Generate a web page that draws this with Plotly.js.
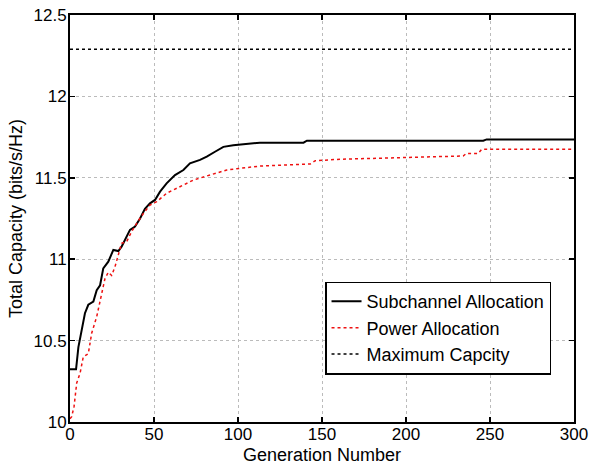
<!DOCTYPE html>
<html>
<head>
<meta charset="utf-8">
<script src="https://cdn.plot.ly/plotly-3.0.1.min.js"></script>
<style>html,body{margin:0;padding:0;background:#fff;}#chart{width:591px;height:469px;}</style>
</head>
<body>
<div id="chart"></div>
<script>
// Subchannel Allocation (black solid)
const subGen = [0, 1, 3.6, 5, 7, 8.9, 10.9, 13.9, 15.9, 17.9, 19.8, 22.8, 25.8, 28.8, 30.7, 33.7, 35.7, 38.7, 41.7, 44.6, 47.6, 50.6, 53.6, 57.5, 62.5, 67.5, 71.4, 77.4, 81.4, 86.3, 91.3, 97.2, 105, 113, 139, 141, 246, 248, 300];
const subVal = [10.324, 10.324, 10.324, 10.46, 10.565, 10.668, 10.72, 10.74, 10.81, 10.84, 10.944, 10.985, 11.057, 11.05, 11.077, 11.138, 11.18, 11.2, 11.25, 11.31, 11.343, 11.364, 11.415, 11.466, 11.517, 11.548, 11.589, 11.61, 11.63, 11.66, 11.69, 11.70, 11.71, 11.716, 11.716, 11.728, 11.728, 11.736, 11.736];

// Power Allocation (red dotted)
const powGen = [0, 1, 2.4, 4, 6, 7.9, 10.9, 12.9, 15.9, 18.8, 20.8, 22.8, 24.8, 26.8, 28.8, 30.7, 33.7, 36.7, 39.7, 43.6, 47.6, 51.6, 57.5, 65.5, 73.4, 83.3, 93.3, 101, 113, 143, 146, 161, 200, 206, 234, 236, 243, 245, 300];
const powVal = [10.02, 10.033, 10.094, 10.24, 10.30, 10.40, 10.42, 10.545, 10.647, 10.79, 10.88, 10.92, 10.90, 10.954, 11.036, 11.098, 11.107, 11.17, 11.22, 11.28, 11.333, 11.353, 11.405, 11.445, 11.486, 11.517, 11.548, 11.558, 11.572, 11.585, 11.605, 11.614, 11.626, 11.63, 11.634, 11.65, 11.65, 11.675, 11.675];

// Maximum Capacity (black dotted)
const maxGen = [0, 300];
const maxVal = [12.29, 12.29];

const xTicks = [0, 50, 100, 150, 200, 250, 300];
const yTicks = [10, 10.5, 11, 11.5, 12, 12.5];
const yTickText = ['10', '10.5', '11', '11.5', '12', '12.5'];

const tickFont = {family: 'Liberation Sans, Arial, sans-serif', size: 17, color: '#000'};
const titleFont = {family: 'Liberation Sans, Arial, sans-serif', size: 18, color: '#000'};

const traces = [
  {x: subGen, y: subVal, mode: 'lines', name: 'Subchannel Allocation',
   line: {color: '#000', width: 2}},
  {x: powGen, y: powVal, mode: 'lines', name: 'Power Allocation',
   line: {color: '#ee1111', width: 1.5, dash: 'dot'}},
  {x: maxGen, y: maxVal, mode: 'lines', name: 'Maximum Capcity',
   line: {color: '#000', width: 1.5, dash: 'dot'}}
];

const axisCommon = {
  showline: true, linecolor: '#000', linewidth: 2, mirror: 'ticks',
  ticks: 'inside', ticklen: 5, tickcolor: '#000', tickwidth: 1.5,
  showgrid: true, gridcolor: '#bbbbbb', griddash: 'dot', gridwidth: 1,
  zeroline: false, tickfont: tickFont
};

const layout = {
  width: 591, height: 469,
  margin: {l: 70, r: 17, t: 15, b: 47},
  paper_bgcolor: '#fff', plot_bgcolor: '#fff',
  font: tickFont,
  showlegend: true,
  legend: {x: 0.506, y: 0.345, xanchor: 'left', yanchor: 'top',
           bgcolor: '#fff', bordercolor: '#000', borderwidth: 1.5,
           font: titleFont, tracegroupgap: 0},
  xaxis: Object.assign({}, axisCommon, {
    range: [0, 300], tickvals: xTicks, ticktext: xTicks.map(String),
    ticklabelstandoff: -4,
    title: {text: 'Generation Number', font: titleFont, standoff: 5}
  }),
  yaxis: Object.assign({}, axisCommon, {
    range: [10, 12.5], tickvals: yTicks, ticktext: yTickText,
    ticklabelstandoff: -2,
    title: {text: 'Total Capacity (bits/s/Hz)', font: titleFont, standoff: 6}
  })
};

Plotly.newPlot('chart', traces, layout, {displayModeBar: false, staticPlot: true});
</script>
</body>
</html>
